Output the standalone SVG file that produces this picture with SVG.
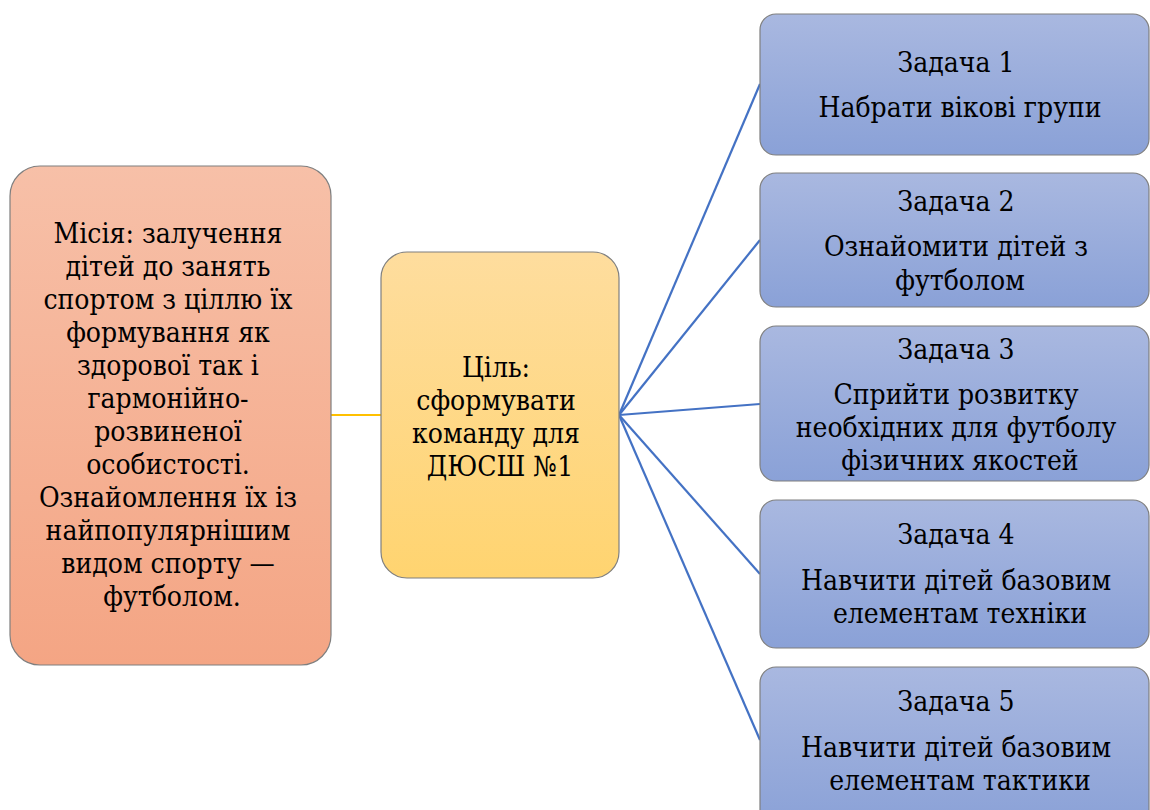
<svg xmlns="http://www.w3.org/2000/svg" width="1150" height="810" viewBox="0 0 1150 810">
  <defs>
    <linearGradient id="gMission" x1="0" y1="0" x2="0" y2="1">
      <stop offset="0" stop-color="#F7C0A8"/>
      <stop offset="1" stop-color="#F4A584"/>
    </linearGradient>
    <linearGradient id="gGoal" x1="0" y1="0" x2="0" y2="1">
      <stop offset="0" stop-color="#FEDD9E"/>
      <stop offset="1" stop-color="#FFD470"/>
    </linearGradient>
    <linearGradient id="gTask" x1="0" y1="0" x2="0" y2="1">
      <stop offset="0" stop-color="#A9B8E0"/>
      <stop offset="1" stop-color="#8AA1D7"/>
    </linearGradient>
    <style>
      .box { stroke: #7F7F7F; stroke-width: 1.2; }
      .txt { font-family: 'DejaVu Serif Condensed', 'DejaVu Serif', serif; font-stretch: condensed; font-size: 28px; fill: #000; text-anchor: middle; }
      .link { fill: none; stroke: #4472C4; stroke-width: 2.2; }
      .linkY { fill: none; stroke: #FFC000; stroke-width: 2.2; }
    </style>
  </defs>
  <rect width="1150" height="810" fill="#FFFFFF"/>

  <!-- mission -> goal (yellow), goal -> tasks (blue) -->
  <g id="connectors">
    <line class="linkY" x1="331" y1="415" x2="381" y2="415"/>
    <line class="link" x1="619" y1="415" x2="760" y2="84"/>
    <line class="link" x1="619" y1="415" x2="760" y2="240"/>
    <line class="link" x1="619" y1="415" x2="760" y2="404"/>
    <line class="link" x1="619" y1="415" x2="760" y2="574"/>
    <line class="link" x1="619" y1="415" x2="760" y2="740"/>
  </g>

  <g id="mission">
    <rect class="box" x="10" y="166" width="321" height="499" rx="30" fill="url(#gMission)"/>
    <text class="txt">
      <tspan x="172" y="243">Місія: залучення</tspan>
      <tspan x="172" y="276">дітей до занять</tspan>
      <tspan x="172" y="309">спортом з ціллю їх</tspan>
      <tspan x="172" y="342">формування як</tspan>
      <tspan x="172" y="375">здорової так і</tspan>
      <tspan x="172" y="408">гармонійно-</tspan>
      <tspan x="172" y="441">розвиненої</tspan>
      <tspan x="172" y="474">особистості.</tspan>
      <tspan x="172" y="507">Ознайомлення їх із</tspan>
      <tspan x="172" y="540">найпопулярнішим</tspan>
      <tspan x="172" y="573">видом спорту —</tspan>
      <tspan x="172" y="606">футболом.</tspan>
    </text>
  </g>

  <g id="goal">
    <rect class="box" x="381" y="252" width="238" height="326" rx="26" fill="url(#gGoal)"/>
    <text class="txt">
      <tspan x="500" y="377">Ціль:</tspan>
      <tspan x="500" y="410">сформувати</tspan>
      <tspan x="500" y="443">команду для</tspan>
      <tspan x="500" y="476">ДЮСШ №1</tspan>
    </text>
  </g>

  <g id="task1">
    <rect class="box" x="760" y="14" width="389" height="141" rx="16" fill="url(#gTask)"/>
    <text class="txt">
      <tspan x="960" y="72">Задача 1</tspan>
      <tspan x="960" y="117">Набрати вікові групи</tspan>
    </text>
  </g>

  <g id="task2">
    <rect class="box" x="760" y="173" width="389" height="134" rx="16" fill="url(#gTask)"/>
    <text class="txt">
      <tspan x="960" y="211">Задача 2</tspan>
      <tspan x="960" y="256">Ознайомити дітей з</tspan>
      <tspan x="960" y="290">футболом</tspan>
    </text>
  </g>

  <g id="task3">
    <rect class="box" x="760" y="326" width="389" height="155" rx="16" fill="url(#gTask)"/>
    <text class="txt">
      <tspan x="960" y="359">Задача 3</tspan>
      <tspan x="960" y="404">Сприйти розвитку</tspan>
      <tspan x="960" y="437">необхідних для футболу</tspan>
      <tspan x="960" y="470">фізичних якостей</tspan>
    </text>
  </g>

  <g id="task4">
    <rect class="box" x="760" y="500" width="389" height="148" rx="16" fill="url(#gTask)"/>
    <text class="txt">
      <tspan x="960" y="544">Задача 4</tspan>
      <tspan x="960" y="590">Навчити дітей базовим</tspan>
      <tspan x="960" y="623">елементам техніки</tspan>
    </text>
  </g>

  <g id="task5">
    <rect class="box" x="760" y="667" width="389" height="160" rx="16" fill="url(#gTask)"/>
    <text class="txt">
      <tspan x="960" y="711">Задача 5</tspan>
      <tspan x="960" y="757">Навчити дітей базовим</tspan>
      <tspan x="960" y="790">елементам тактики</tspan>
    </text>
  </g>
</svg>
